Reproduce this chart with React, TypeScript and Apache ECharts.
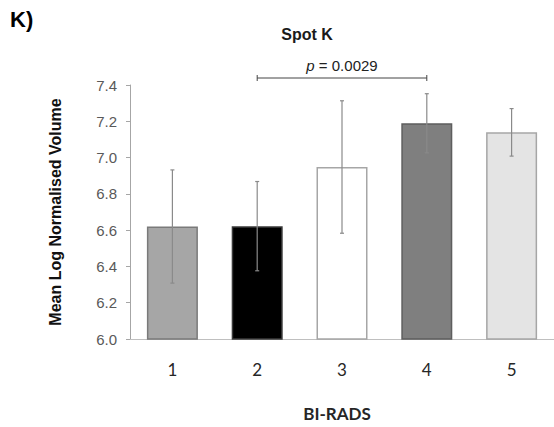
import React, { useEffect, useRef } from "react";
import * as echarts from "echarts";

const categories = ["1", "2", "3", "4", "5"];
const means = [6.62, 6.622, 6.948, 7.189, 7.139];
const errors = [0.312, 0.246, 0.365, 0.163, 0.131];
const barColors = ["#a6a6a6", "#000000", "#ffffff", "#7f7f7f", "#e4e4e4"];
const barBorders = ["#7a7a7a", "#3a3a3a", "#a6a6a6", "#5e5e5e", "#a6a6a6"];
const comparison = { from: 1, to: 3, label: "0.0029" };

export default function App() {
  const ref = useRef<HTMLDivElement>(null);
  useEffect(() => {
    const chart = echarts.init(ref.current!, null, { renderer: "svg" });
    chart.setOption({
      animation: false,
      backgroundColor: "#ffffff",
      title: [
        {
          text: "K)",
          left: 5,
          top: 3,
          textStyle: { fontFamily: "Liberation Sans", fontWeight: "bold", fontSize: 22, color: "#000" },
        },
        {
          text: "Spot K",
          left: 302,
          top: 21,
          textAlign: "center",
          textStyle: { fontFamily: "Liberation Sans", fontWeight: "bold", fontSize: 16, color: "#1a1a1a" },
        },
      ],
      grid: { left: 130, top: 85, width: 427.5, height: 262, containLabel: false },
      xAxis: {
        type: "category",
        data: categories,
        name: "BI-RADS",
        nameLocation: "middle",
        nameGap: 66,
        nameTextStyle: { fontFamily: "Lato", fontWeight: "bold", fontSize: 17, color: "#262626", padding: [0, 0, 0, -10] },
        axisLine: { lineStyle: { color: "#bfbfbf", width: 1 } },
        axisTick: { show: false },
        axisLabel: { margin: 22, fontFamily: "Lato", fontSize: 17, color: "#262626" },
      },
      yAxis: {
        type: "value",
        min: 6.0,
        max: 7.4,
        interval: 0.2,
        name: "Mean Log Normalised Volume",
        nameLocation: "middle",
        nameGap: 67,
        nameRotate: 90,
        nameTextStyle: { fontFamily: "Liberation Sans", fontWeight: "bold", fontSize: 16, color: "#111" },
        axisLine: { show: true, lineStyle: { color: "#a6a6a6", width: 1 } },
        axisTick: { show: true, inside: false, length: 4, lineStyle: { color: "#a6a6a6" } },
        axisLabel: {
          margin: 13,
          fontFamily: "Liberation Sans",
          fontSize: 15,
          color: "#595959",
          formatter: (v: number) => v.toFixed(1),
        },
        splitLine: { show: false },
      },
      series: [
        {
          type: "bar",
          barWidth: 51,
          data: means.map((m, i) => ({
            value: m,
            itemStyle: { color: barColors[i], borderColor: barBorders[i], borderWidth: 1.5 },
          })),
        },
        {
          type: "custom",
          data: means.map((m, i) => [i, m - errors[i], m + errors[i]]),
          z: 10,
          renderItem: (params: any, api: any) => {
            const x = api.value(0);
            const lo = api.coord([x, api.value(1)]);
            const hi = api.coord([x, api.value(2)]);
            const cap = 2;
            const style = { stroke: "#8a8a8a", lineWidth: 1.2 };
            return {
              type: "group",
              children: [
                { type: "line", shape: { x1: lo[0], y1: lo[1], x2: hi[0], y2: hi[1] }, style },
                { type: "line", shape: { x1: lo[0] - cap, y1: lo[1], x2: lo[0] + cap, y2: lo[1] }, style },
                { type: "line", shape: { x1: hi[0] - cap, y1: hi[1], x2: hi[0] + cap, y2: hi[1] }, style },
              ],
            };
          },
        },
        {
          type: "custom",
          data: [[comparison.from, comparison.to, 7.4]],
          clip: false,
          z: 10,
          renderItem: (params: any, api: any) => {
            const a = api.coord([api.value(0), api.value(2)]);
            const b = api.coord([api.value(1), api.value(2)]);
            const y = a[1] - 7;
            const style = { stroke: "#444", lineWidth: 1 };
            return {
              type: "group",
              children: [
                { type: "line", shape: { x1: a[0], y1: y, x2: b[0], y2: y }, style },
                { type: "line", shape: { x1: a[0], y1: y - 3, x2: a[0], y2: y + 3 }, style },
                { type: "line", shape: { x1: b[0], y1: y - 3, x2: b[0], y2: y + 3 }, style },
                {
                  type: "text",
                  x: (a[0] + b[0]) / 2,
                  y: y - 5,
                  style: {
                    rich: {
                      i: { fontFamily: "Liberation Sans", fontStyle: "italic", fontSize: 15, fill: "#222" },
                      n: { fontFamily: "Liberation Sans", fontSize: 15, fill: "#222" },
                    },
                    text: "{i|p}{n| = " + comparison.label + "}",
                    align: "center",
                    verticalAlign: "bottom",
                  },
                },
              ],
            };
          },
        },
      ],
    });
    return () => chart.dispose();
  }, []);
  return <div ref={ref} style={{ width: 554, height: 427, position: "absolute", left: 0, top: 0 }} />;
}
